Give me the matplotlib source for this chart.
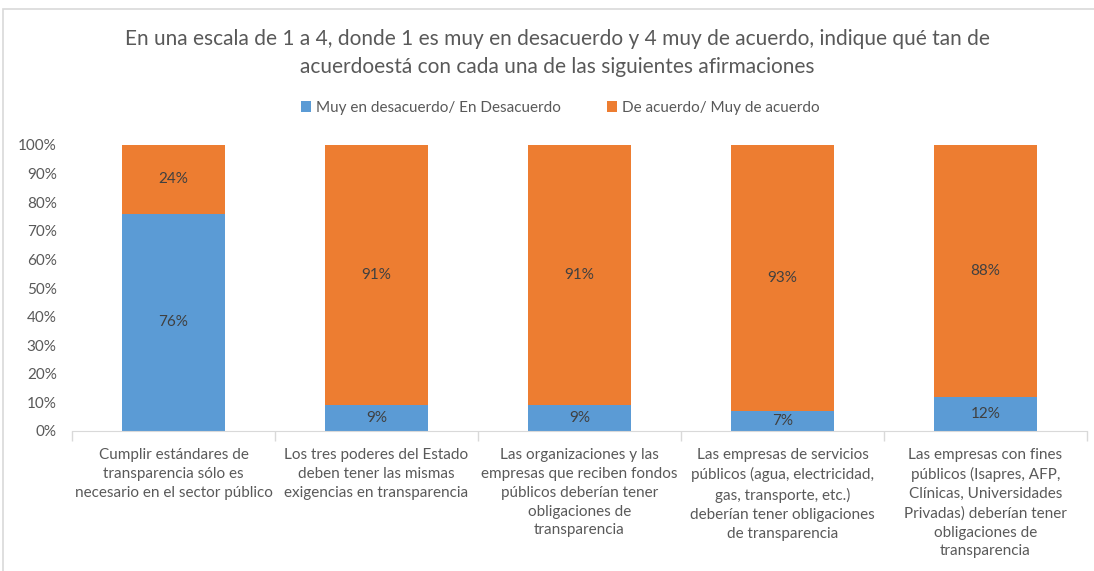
import matplotlib
matplotlib.use("Agg")
import matplotlib.pyplot as plt
from matplotlib.patches import Rectangle
import numpy as np

categories = [
    "Cumplir estándares de\ntransparencia sólo es\nnecesario en el sector público",
    "Los tres poderes del Estado\ndeben tener las mismas\nexigencias en transparencia",
    "Las organizaciones y las\nempresas que reciben fondos\npúblicos deberían tener\nobligaciones de\ntransparencia",
    "Las empresas de servicios\npúblicos (agua, electricidad,\ngas, transporte, etc.)\ndeberían tener obligaciones\nde transparencia",
    "Las empresas con fines\npúblicos (Isapres, AFP,\nClínicas, Universidades\nPrivadas) deberían tener\nobligaciones de\ntransparencia",
]
desacuerdo = [76, 9, 9, 7, 12]
acuerdo = [24, 91, 91, 93, 88]
series_names = ["Muy en desacuerdo/ En Desacuerdo", "De acuerdo/ Muy de acuerdo"]
title = ("En una escala de 1 a 4, donde 1 es muy en desacuerdo y 4 muy de acuerdo, indique qué tan de\n"
         "acuerdoestá con cada una de las siguientes afirmaciones")

plt.rcParams['font.family'] = ['Lato', 'DejaVu Sans']
gray = '#595959'
blue = '#5B9BD5'
orange = '#ED7D31'

fig = plt.figure(figsize=(10.94, 5.71), dpi=100)
ax = fig.add_axes([72/1094, 1-431/571, 1015/1094, 286/571])

x = np.arange(len(categories))
w = 0.51
b1 = ax.bar(x, desacuerdo, w, color=blue, label=series_names[0], zorder=2)
b2 = ax.bar(x, acuerdo, w, bottom=desacuerdo, color=orange, label=series_names[1], zorder=2)

for i in range(len(categories)):
    ax.text(x[i], desacuerdo[i]/2, f"{desacuerdo[i]}%", ha='center', va='center',
            fontsize=11, color='#404040')
    ax.text(x[i], desacuerdo[i] + acuerdo[i]/2, f"{acuerdo[i]}%", ha='center', va='center',
            fontsize=11, color='#404040')

ax.set_xlim(-0.5, len(categories)-0.5)
ax.set_ylim(0, 100)
ax.set_yticks(np.arange(0, 101, 10))
ax.set_yticklabels([f"{v}%" for v in range(0, 101, 10)], fontsize=11, color=gray)
ax.tick_params(axis='y', length=0, pad=11)
ax.set_xticks(x)
ax.set_xticklabels(categories, fontsize=11, color=gray, linespacing=1.45)
ax.tick_params(axis='x', length=0, pad=12)
ax.set_xticks(np.arange(-0.5, len(categories), 1), minor=True)
ax.tick_params(axis='x', which='minor', length=7, color='#d9d9d9', width=1)
for s in ['top', 'right', 'left']:
    ax.spines[s].set_visible(False)
ax.spines['bottom'].set_color('#d9d9d9')

fig.text(557/1094, 1-53/571, title, ha='center', va='center', fontsize=15,
         color=gray, linespacing=1.5)
leg = fig.legend(handles=[b1, b2], loc='center', bbox_to_anchor=(560/1094, 1-108/571),
                 ncol=2, frameon=False, fontsize=11, handlelength=0.7, handleheight=0.7,
                 handletextpad=0.3, columnspacing=3)
for t in leg.get_texts():
    t.set_color(gray)

fig.patches.append(Rectangle((3/1094, -0.1), 1.2, 1-9/571+0.1, transform=fig.transFigure,
                             fill=False, edgecolor='#d9d9d9', linewidth=1.2))

fig.savefig("out.png", dpi=100)
